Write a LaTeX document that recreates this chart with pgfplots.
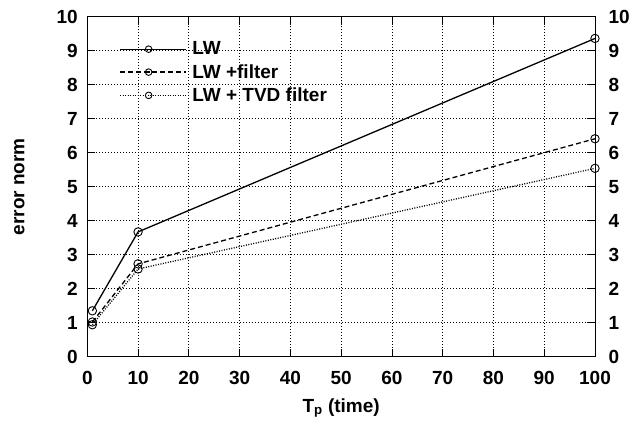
\documentclass[border=0pt]{standalone}
\usepackage{fontspec}
\setmainfont{Liberation Sans}
\usepackage{pgfplots}
\pgfplotsset{compat=1.18}

\newcommand{\gpfont}{\fontsize{19}{23}\selectfont\bfseries}

\pgfplotsset{
  gpbase/.style={
    scale only axis,
    width=507.7pt, height=340pt,
    xmin=0, xmax=100, ymin=0, ymax=10,
    xtick={0,10,...,100}, ytick={0,1,...,10},
    tick align=inside,
    major tick length=8pt,
    axis line style={line width=1pt},
    tick style={line width=0.8pt, black},
    /pgf/number format/assume math mode=true,
    ticklabel style={font=\gpfont},
    label style={font=\gpfont},
  },
}

\begin{document}
\begin{tikzpicture}
\useasboundingbox (-87.3pt,-64.3pt) rectangle (545.7pt,356.7pt);
\begin{axis}[
  gpbase,
  grid=major,
  grid style={dash pattern=on 0.8pt off 2.2pt, line width=0.7pt, black},
  yticklabel style={xshift=-6pt},
  xticklabel style={yshift=-11pt},
  xlabel={T\textsubscript{p} (time)},
  ylabel={error norm},
  xlabel style={at={(axis description cs:0.5,-0.1627)}, anchor=base},
  ylabel style={at={(axis description cs:-0.134,0.5)}, anchor=center},
  legend style={draw=none, fill=none, inner sep=0pt,
    nodes={inner xsep=5.5pt, inner ysep=1pt},
    at={(rel axis cs:0,1)}, anchor=north west, xshift=32pt, yshift=-24pt,
    font=\gpfont, row sep=6pt},
  legend cell align=left,
  legend image code/.code={
    \path (0pt,0pt) -- (66pt,0pt);
    \draw[mark repeat=2,mark phase=2,#1,mark size=3.3pt]
    plot coordinates {(0pt,0pt) (28.5pt,0pt) (57pt,0pt)};},
]
\addplot[black, line width=1.3pt, mark=o, mark size=4.2pt,
  mark options={solid, line width=0.9pt}]
  coordinates {(1,1.35) (10,3.67) (100,9.36)};
\addlegendentry{LW}
\addplot[black, line width=1.3pt, dash pattern=on 5pt off 3pt, mark=o, mark size=4.2pt,
  mark options={solid, line width=0.9pt}]
  coordinates {(1,1.02) (10,2.73) (100,6.41)};
\addlegendentry{LW +filter}
\addplot[black, line width=1.3pt, dash pattern=on 1pt off 1.5pt, mark=o, mark size=4.2pt,
  mark options={solid, line width=0.9pt}]
  coordinates {(1,0.94) (10,2.58) (100,5.54)};
\addlegendentry{LW + TVD filter}
\end{axis}
\begin{axis}[
  gpbase,
  axis x line=none,
  axis y line*=right,
  axis line style={draw=none},
  ytick style={draw=none},
  yticklabel pos=right,
  yticklabel style={xshift=10pt},
]
\end{axis}
\end{tikzpicture}
\end{document}
